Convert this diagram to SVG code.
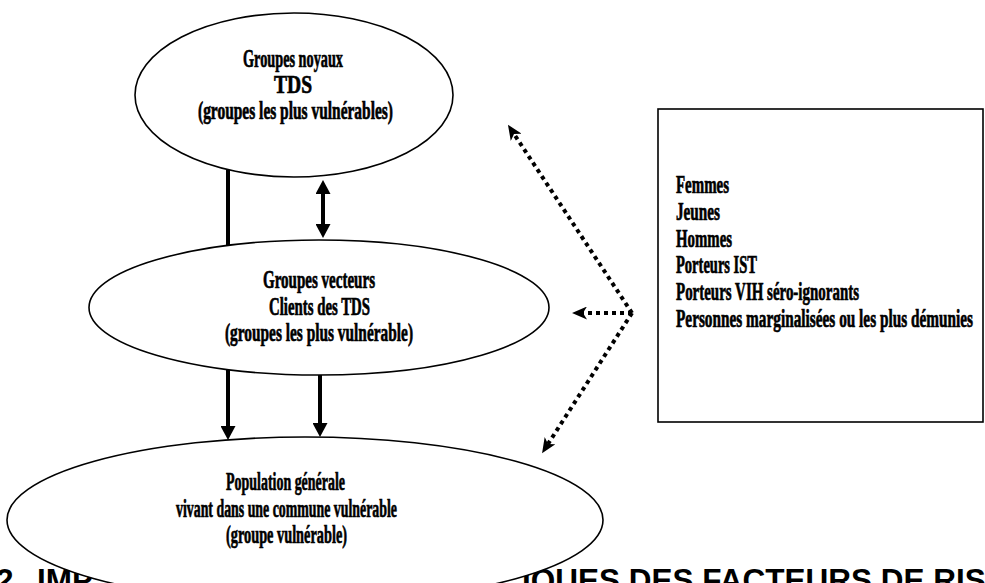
<svg xmlns="http://www.w3.org/2000/svg" width="985" height="583" viewBox="0 0 985 583">
  <style>
    .node { fill: #ffffff; stroke: #000000; stroke-width: 1.6; }
    .lbl { font-family: "Liberation Serif", "Times New Roman", serif; font-weight: bold; font-size: 25px; fill: #000000; stroke: #000000; stroke-width: 0.7; }
    .title { font-family: "Liberation Sans", Arial, sans-serif; font-weight: bold; font-size: 31.5px; fill: #000000; }
    .solid { fill: none; stroke: #000000; stroke-width: 4; }
    .dotted { fill: none; stroke: #000000; stroke-width: 4; stroke-dasharray: 4 4; }
  </style>
  <defs>
    <marker id="head" viewBox="0 0 14 15" refX="4" refY="7.5" markerWidth="14" markerHeight="15" markerUnits="userSpaceOnUse" orient="auto-start-reverse">
      <path d="M0,0 L14,7.5 L0,15 z" fill="#000000"/>
    </marker>
    <marker id="notch" viewBox="0 0 15 13" refX="4" refY="6.5" markerWidth="15" markerHeight="13" markerUnits="userSpaceOnUse" orient="auto">
      <path d="M0,0 L15,6.5 L0,13 L4,6.5 z" fill="#000000"/>
    </marker>
  </defs>

  <rect width="985" height="583" fill="#ffffff"/>

  <!-- section heading, partly covered by the lower ellipse -->
  <g id="heading">
    <text class="title" x="-4" y="591">2.</text>
    <text class="title" x="37" y="591">IMP</text>
    <text class="title" x="522" y="591">IQUES DES FACTEURS DE RIS</text>
  </g>

  <g id="core-groups">
    <ellipse class="node" cx="294" cy="95" rx="159" ry="82"/>
    <text class="lbl" x="243" y="67" textLength="100" lengthAdjust="spacingAndGlyphs">Groupes noyaux</text>
    <text class="lbl" x="274" y="93" textLength="38" lengthAdjust="spacingAndGlyphs">TDS</text>
    <text class="lbl" x="198" y="119" textLength="195" lengthAdjust="spacingAndGlyphs">(groupes les plus vulnérables)</text>
  </g>

  <g id="bridge-groups">
    <ellipse class="node" cx="319" cy="307.5" rx="230" ry="67.5"/>
    <text class="lbl" x="263" y="288" textLength="112" lengthAdjust="spacingAndGlyphs">Groupes vecteurs</text>
    <text class="lbl" x="269" y="315" textLength="101" lengthAdjust="spacingAndGlyphs">Clients des TDS</text>
    <text class="lbl" x="225" y="341" textLength="188" lengthAdjust="spacingAndGlyphs">(groupes les plus vulnérable)</text>
  </g>

  <g id="general-population">
    <ellipse class="node" cx="305" cy="520" rx="298" ry="83"/>
    <text class="lbl" x="226" y="490" textLength="119" lengthAdjust="spacingAndGlyphs">Population générale</text>
    <text class="lbl" x="176" y="517" textLength="221" lengthAdjust="spacingAndGlyphs">vivant dans une commune vulnérable</text>
    <text class="lbl" x="226" y="543" textLength="121" lengthAdjust="spacingAndGlyphs">(groupe vulnérable)</text>
  </g>

  <g id="risk-factors">
    <rect class="node" x="658" y="109" width="325" height="313"/>
    <text class="lbl" x="676" y="193" textLength="53" lengthAdjust="spacingAndGlyphs">Femmes</text>
    <text class="lbl" x="676" y="220" textLength="44" lengthAdjust="spacingAndGlyphs">Jeunes</text>
    <text class="lbl" x="676" y="247" textLength="56" lengthAdjust="spacingAndGlyphs">Hommes</text>
    <text class="lbl" x="676" y="273" textLength="81" lengthAdjust="spacingAndGlyphs">Porteurs IST</text>
    <text class="lbl" x="676" y="300" textLength="183" lengthAdjust="spacingAndGlyphs">Porteurs VIH séro-ignorants</text>
    <text class="lbl" x="676" y="327" textLength="297" lengthAdjust="spacingAndGlyphs">Personnes marginalisées ou les plus démunies</text>
  </g>

  <g id="connectors">
    <!-- solid transmission links -->
    <line class="solid" x1="228" y1="170" x2="228" y2="245"/>
    <line class="solid" x1="323" y1="190" x2="323" y2="228" marker-start="url(#head)" marker-end="url(#head)"/>
    <line class="solid" x1="228" y1="370" x2="228" y2="430" marker-end="url(#head)"/>
    <line class="solid" x1="320" y1="375" x2="320" y2="427" stroke-width="3" marker-end="url(#head)"/>
    <!-- dotted influence links from the risk-factor box -->
    <path class="dotted" d="M632,313 L514,134" marker-end="url(#notch)"/>
    <path class="dotted" d="M632,313 L583,313" marker-end="url(#notch)"/>
    <path class="dotted" d="M632,313 L548,444" marker-end="url(#notch)"/>
  </g>
</svg>
